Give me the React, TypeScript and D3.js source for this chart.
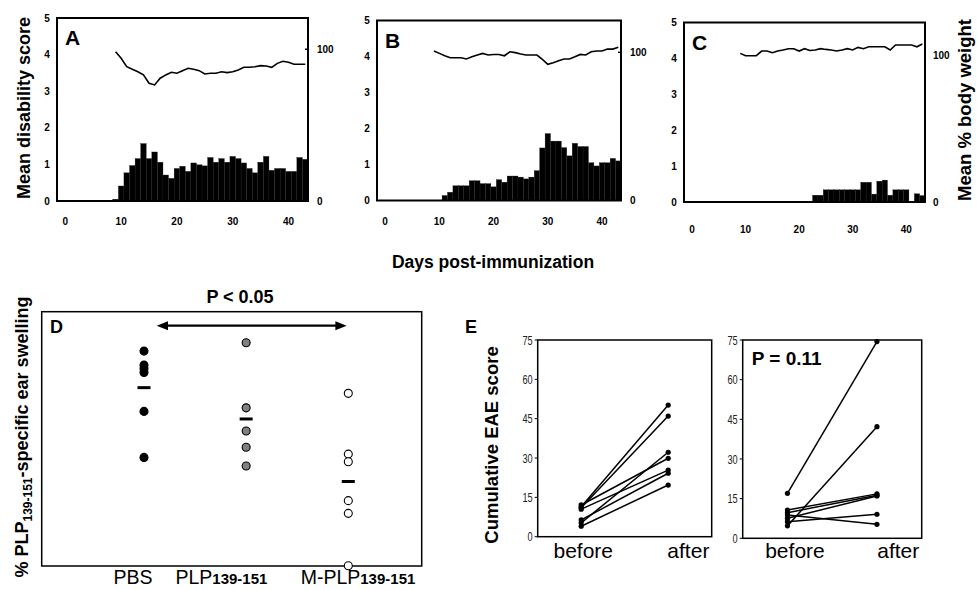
import React from 'react';
import * as d3 from 'd3';

// ---------- data ----------
const dayTicks = [0, 10, 20, 30, 40];
const scoreTicks = [0, 1, 2, 3, 4, 5];
const weightTicks = [0, 100];

const weightStart = 9;
const scoreStartA = 9;
const scoresA = [0.05, 0.41, 0.77, 0.97, 1.16, 1.57, 1.16, 1.34, 1.06, 0.71, 0.62, 0.89, 0.95, 0.81, 1.04, 0.99, 0.96, 1.19, 1.06, 1.16, 1.06, 1.22, 1.16, 1.04, 0.89, 0.77, 1.06, 1.22, 0.84, 0.89, 0.89, 0.81, 0.81, 1.19, 1.14];
const weightsA = [98.4, 94.1, 88.5, 86.8, 85.2, 83.1, 77.6, 76.5, 80.9, 83.1, 84.8, 84.2, 85.9, 87.5, 86.8, 85.9, 83.7, 84.2, 84.2, 85.2, 84.6, 85.2, 86.4, 88.1, 88.1, 88.5, 89.2, 89.0, 88.1, 90.7, 92.1, 91.4, 90.1, 90.1, 90.1];

const scoreStartB = 11;
const scoresB = [0.14, 0.23, 0.41, 0.41, 0.41, 0.55, 0.55, 0.47, 0.47, 0.38, 0.58, 0.51, 0.68, 0.68, 0.65, 0.60, 0.65, 0.83, 1.46, 1.86, 1.65, 1.65, 1.47, 1.24, 1.59, 1.50, 1.50, 1.05, 0.96, 1.05, 1.05, 1.17, 1.10];
const weightsB = [100.9, 99.3, 97.7, 96.4, 96.4, 96.4, 95.5, 97.0, 98.2, 99.3, 98.2, 98.6, 98.6, 97.7, 100.4, 99.8, 98.9, 98.2, 98.2, 98.2, 95.3, 91.9, 93.0, 94.3, 95.5, 95.5, 97.0, 98.6, 98.2, 100.4, 100.9, 100.9, 102.2, 102.2, 103.4];

const scoreStartC = 23;
const scoresC = [0.19, 0.19, 0.34, 0.34, 0.34, 0.34, 0.34, 0.34, 0.34, 0.55, 0.55, 0.22, 0.58, 0.61, 0.19, 0.34, 0.34, 0.34, 0.0, 0.23, 0.18];
const weightsC = [101.6, 100.0, 100.0, 100.0, 103.2, 103.2, 102.0, 103.2, 103.9, 104.8, 104.8, 103.2, 104.8, 103.6, 103.9, 104.8, 104.3, 103.9, 103.2, 103.9, 104.8, 103.9, 105.7, 104.8, 106.1, 106.1, 106.1, 106.1, 103.9, 107.3, 107.3, 107.3, 107.3, 106.1, 108.0];

const groups = ['PBS', 'PLP', 'M-PLP'];
const swellPBS = [84.5, 79.0, 77.7, 76.1, 60.8, 42.7];
const swellPLP = [87.8, 62.2, 53.1, 46.7, 39.3];
const swellMPLP = [67.9, 44.0, 41.0, 25.7, 20.7, 0.1];

const eaeTicks = [0, 15, 30, 45, 60, 75];
const phases = ['before', 'after'];
const eaeBefore1 = [11.4, 11.0, 5.3, 12.1, 10.5, 6.4, 4.0];
const eaeAfter1 = [50.2, 46.0, 32.2, 29.9, 25.4, 24.2, 19.7];
const eaeBefore2 = [17.0, 4.7, 10.7, 9.7, 7.6, 6.3, 8.8];
const eaeAfter2 = [74.4, 42.2, 16.8, 16.3, 16.0, 9.1, 5.3];

// ---------- styles ----------
const FONT = 'Liberation Sans, Arial, Helvetica, sans-serif';

type PanelProps = {
  letter: string;
  box: [number, number, number, number];
  scores: number[];
  scoreStart: number;
  weights: number[];
  wMax: number;
  tickDy: number;
  rightDx: number;
  innerTick: boolean;
};

function DiseasePanel({ letter, box, scores, scoreStart, weights, wMax, tickDy, rightDx, innerTick }: PanelProps) {
  const [x0, y0, x1, y1] = box;
  const x = d3.scaleLinear().domain([-1.5, 43.5]).range([x0, x1]);
  const yL = d3.scaleLinear().domain([0, 5]).range([y1, y0]);
  const yR = d3.scaleLinear().domain([0, wMax]).range([y1, y0]);
  const line = d3
    .line<number>()
    .x((_, i) => x(weightStart + i))
    .y((v) => yR(v));
  return (
    <g>
      {scores.map((v, i) => {
        const d = scoreStart + i;
        return (
          <rect
            key={i}
            x={x(d - 0.5)}
            width={x(d + 0.5) - x(d - 0.5)}
            y={yL(v)}
            height={y1 - yL(v)}
            fill="#000"
            stroke="#222"
            strokeWidth={0.3}
          />
        );
      })}
      <path d={line(weights) || ''} fill="none" stroke="#000" strokeWidth={1.6} />
      <rect x={x0} y={y0} width={x1 - x0} height={y1 - y0} fill="none" stroke="#000" strokeWidth={2} />
      {innerTick && <line x1={x1 - 3} x2={x1} y1={yR(100)} y2={yR(100)} stroke="#000" strokeWidth={1.5} />}
      {scoreTicks.map((t) => (
        <text key={t} x={x0 - 10} y={yL(t)} dy="0.35em" textAnchor="middle" fontFamily={FONT} fontWeight="bold" fontSize={10}>
          {t}
        </text>
      ))}
      {dayTicks.map((t) => (
        <text key={t} x={x(t)} y={y1 + tickDy} dy="0.35em" textAnchor="middle" fontFamily={FONT} fontWeight="bold" fontSize={10}>
          {t}
        </text>
      ))}
      {weightTicks.map((t) => (
        <text key={t} x={x1 + rightDx} y={yR(t)} dy="0.35em" textAnchor="start" fontFamily={FONT} fontWeight="bold" fontSize={10}>
          {t}
        </text>
      ))}
      <text x={x0 + 8} y={y0 + 27} fontFamily={FONT} fontWeight="bold" fontSize={21}>
        {letter}
      </text>
    </g>
  );
}

function SwellingPanel() {
  const [x0, y0, x1, y1] = [41.7, 311.7, 421.7, 566];
  const xD = d3.scalePoint<string>().domain(groups).range([144, 348.3]);
  const yD = d3.scaleLinear().domain([0, 100]).range([y1, y0]);
  const series = [swellPBS, swellPLP, swellMPLP];
  const fills = ['#000', '#808080', '#fff'];
  const labelShift = [-11, -24.7, 9.7];
  const ay = 325.7;
  return (
    <g>
      <rect x={x0} y={y0} width={x1 - x0} height={y1 - y0} fill="none" stroke="#000" strokeWidth={1.5} />
      {series.map((vals, gi) => {
        const cx = xD(groups[gi]) as number;
        const m = d3.mean(vals) as number;
        return (
          <g key={gi}>
            {vals.map((v, i) => (
              <circle key={i} cx={cx} cy={yD(v)} r={4} fill={fills[gi]} stroke="#000" strokeWidth={1.1} />
            ))}
            <line x1={cx - 6.5} x2={cx + 6.5} y1={yD(m)} y2={yD(m)} stroke="#000" strokeWidth={3} />
          </g>
        );
      })}
      {/* arrow */}
      <line x1={166} x2={337} y1={ay} y2={ay} stroke="#000" strokeWidth={2.2} />
      <path d={`M156.7,${ay} L168,${ay - 4.5} L168,${ay + 4.5} Z`} fill="#000" />
      <path d={`M346.7,${ay} L335.4,${ay - 4.5} L335.4,${ay + 4.5} Z`} fill="#000" />
      <text x={240} y={303} textAnchor="middle" fontFamily={FONT} fontWeight="bold" fontSize={18}>
        P &lt; 0.05
      </text>
      <text x={50} y={333} fontFamily={FONT} fontWeight="bold" fontSize={18}>
        D
      </text>
      {groups.map((g, gi) => {
        const cx = (xD(g) as number) + labelShift[gi];
        return (
          <text key={g} x={cx} y={584} textAnchor="middle" fontFamily={FONT} fontSize={19.5}>
            {g}
            {g !== 'PBS' && (
              <tspan fontWeight="bold" fontSize={15}>
                139-151
              </tspan>
            )}
          </text>
        );
      })}
      <text transform="translate(28,437) rotate(-90)" textAnchor="middle" fontFamily={FONT} fontWeight="bold" fontSize={18}>
        % PLP
        <tspan fontSize={12} dy={4}>
          139-151
        </tspan>
        <tspan dy={-4}>-specific ear swelling</tspan>
      </text>
    </g>
  );
}

type EProps = {
  box: [number, number, number, number];
  before: number[];
  after: number[];
  labelFrac: [number, number];
  pText?: string;
};

function EaePanel({ box, before, after, labelFrac, pText }: EProps) {
  const [x0, y0, x1, y1] = box;
  const xP = d3.scalePoint<string>().domain(phases).range([x0, x1]).padding(0.5);
  const y = d3.scaleLinear().domain([0, 75]).range([y1, y0]);
  const bx = xP('before') as number;
  const ax = xP('after') as number;
  return (
    <g>
      {before.map((b, i) => (
        <line key={'l' + i} x1={bx} y1={y(b)} x2={ax} y2={y(after[i])} stroke="#000" strokeWidth={1.5} />
      ))}
      {before.map((b, i) => (
        <circle key={'b' + i} cx={bx} cy={y(b)} r={2.6} fill="#000" />
      ))}
      {after.map((a, i) => (
        <circle key={'a' + i} cx={ax} cy={y(a)} r={2.6} fill="#000" />
      ))}
      <rect x={x0} y={y0} width={x1 - x0} height={y1 - y0} fill="none" stroke="#000" strokeWidth={1.5} />
      {eaeTicks.map((t) => (
        <g key={t}>
          <line x1={x0 - 3} x2={x0} y1={y(t)} y2={y(t)} stroke="#000" strokeWidth={1} />
          <text
            transform={`translate(${x0 - 5},${y(t)}) scale(0.68,1)`}
            dy="0.35em"
            textAnchor="end"
            fontFamily={FONT}
            fontSize={13.5}
            fill="#222"
          >
            {t}
          </text>
        </g>
      ))}
      {phases.map((p, i) => (
        <text key={p} x={x0 + labelFrac[i] * (x1 - x0)} y={558} textAnchor="middle" fontFamily={FONT} fontSize={21}>
          {p}
        </text>
      ))}
      {pText && (
        <text x={x0 + 9} y={365} fontFamily={FONT} fontWeight="bold" fontSize={19}>
          {pText}
        </text>
      )}
    </g>
  );
}

export default function App() {
  return (
    <svg width={977} height={590} style={{ position: 'absolute', left: 0, top: 0, background: '#fff' }}>
      <rect x={0} y={0} width={977} height={590} fill="#fff" />
      <DiseasePanel letter="A" box={[57, 18, 308, 201]} scores={scoresA} scoreStart={scoreStartA} weights={weightsA} wMax={120.6} tickDy={20} rightDx={9} innerTick={true} />
      <DiseasePanel letter="B" box={[377, 20.5, 621, 200.5]} scores={scoresB} scoreStart={scoreStartB} weights={weightsB} wMax={121.5} tickDy={20.5} rightDx={9} innerTick={true} />
      <DiseasePanel letter="C" box={[684, 22.5, 925, 202]} scores={scoresC} scoreStart={scoreStartC} weights={weightsC} wMax={122.7} tickDy={27} rightDx={8} innerTick={false} />
      <text transform="translate(24,108) rotate(-90)" textAnchor="middle" dy="0.35em" fontFamily={FONT} fontWeight="bold" fontSize={18}>
        Mean disability score
      </text>
      <text transform="translate(965,110) rotate(-90)" textAnchor="middle" dy="0.35em" fontFamily={FONT} fontWeight="bold" fontSize={18.5}>
        Mean % body weight
      </text>
      <text x={493} y={268} textAnchor="middle" fontFamily={FONT} fontWeight="bold" fontSize={17.5}>
        Days post-immunization
      </text>
      <SwellingPanel />
      <text x={465} y={333} fontFamily={FONT} fontWeight="bold" fontSize={18}>
        E
      </text>
      <text transform="translate(492,445) rotate(-90)" textAnchor="middle" dy="0.35em" fontFamily={FONT} fontWeight="bold" fontSize={18.5}>
        Cumulative EAE score
      </text>
      <EaePanel box={[537.7, 340, 711.7, 536.7]} before={eaeBefore1} after={eaeAfter1} labelFrac={[0.262, 0.866]} />
      <EaePanel box={[742.7, 340, 921.7, 538.3]} before={eaeBefore2} after={eaeAfter2} labelFrac={[0.292, 0.869]} pText="P = 0.11" />
    </svg>
  );
}
